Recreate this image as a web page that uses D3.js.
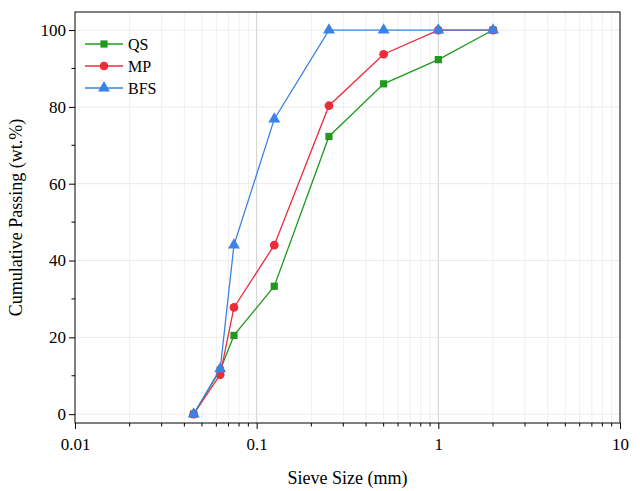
<!DOCTYPE html>
<html><head><meta charset="utf-8">
<script src="https://cdn.jsdelivr.net/npm/d3@7.9.0/dist/d3.min.js"></script>
<style>body{margin:0;background:#fff}svg text{font-family:"Liberation Serif","Times New Roman",serif !important}</style>
</head><body><svg id="c" width="640" height="491"></svg>
<script>
const sieve = [0.045, 0.063, 0.075, 0.125, 0.25, 0.5, 1, 2];
const qs  = [0, 11.5, 20.5, 33.3, 72.3, 86, 92.3, 100];
const mp  = [0, 10.3, 27.8, 44, 80.3, 93.7, 100, 100];
const bfs = [0, 11.8, 44, 76.8, 100, 100, 100, 100];
const seriesNames = ['QS', 'MP', 'BFS'];
const xTicks = [0.01, 0.1, 1, 10];
const yTicks = [0, 20, 40, 60, 80, 100];

const svg = d3.select('#c');
const L = 75, R = 620, T = 12, B = 423;
const x = d3.scaleLog().domain([0.01, 10]).range([L, R]);
const y = d3.scaleLinear().domain([-2.3, 104.7]).range([B, T]);

// grid
const minor = [];
for (let d = 0.01; d < 10; d *= 10) for (let k = 2; k <= 9; k++) minor.push(d * k);
svg.append('g').selectAll('line').data(minor).join('line')
  .attr('x1', d => x(d)).attr('x2', d => x(d)).attr('y1', T).attr('y2', B)
  .attr('stroke', '#ececec').attr('stroke-width', 0.8);
svg.append('g').selectAll('line').data(xTicks.slice(1, 3)).join('line')
  .attr('x1', d => x(d)).attr('x2', d => x(d)).attr('y1', T).attr('y2', B)
  .attr('stroke', '#d0d0d0').attr('stroke-width', 1);
svg.append('g').selectAll('line').data(yTicks).join('line')
  .attr('x1', L).attr('x2', R).attr('y1', d => y(d)).attr('y2', d => y(d))
  .attr('stroke', '#e4e4e4').attr('stroke-width', 0.8);

svg.append('rect').attr('x', L).attr('y', T).attr('width', R - L).attr('height', B - T)
  .attr('fill', 'none').attr('stroke', '#000').attr('stroke-width', 1);

// axes
const xAxis = svg.append('g').attr('transform', `translate(0,${B})`)
  .call(d3.axisBottom(x).tickValues(xTicks).tickFormat(d => String(d)).tickSize(6).tickSizeOuter(0));
xAxis.append('g').selectAll('line').data(minor).join('line')
  .attr('x1', d => x(d)).attr('x2', d => x(d)).attr('y1', 0).attr('y2', 3.5).attr('stroke', '#000');
const yAxis = svg.append('g').attr('transform', `translate(${L},0)`)
  .call(d3.axisLeft(y).tickValues(yTicks).tickSize(6).tickSizeOuter(0));
yAxis.append('g').selectAll('line').data(d3.range(10, 100, 20)).join('line')
  .attr('x1', 0).attr('x2', -3.5).attr('y1', d => y(d)).attr('y2', d => y(d)).attr('stroke', '#000');
svg.selectAll('.domain').remove();
xAxis.attr('font-family', null); yAxis.attr('font-family', null);
svg.selectAll('.tick text').style('font-size', '17px').attr('fill', '#000');
xAxis.selectAll('.tick text').attr('dy', '1.05em');

svg.append('text').attr('x', (L + R) / 2).attr('y', 484).attr('text-anchor', 'middle')
  .attr('font-size', 18).text('Sieve Size (mm)');
svg.append('text').attr('transform', `translate(22,${(T + B) / 2}) rotate(-90)`)
  .attr('text-anchor', 'middle').attr('font-size', 18).text('Cumulative Passing (wt.%)');

// series
const colors = ['#1f9a1f', '#ec2b3b', '#3b82e6'];
const vals = [qs, mp, bfs];
const line = d3.line().x(d => x(d[0])).y(d => y(d[1]));
const marker = [d3.symbolSquare, d3.symbolCircle, d3.symbolTriangle];
const sizes = [52, 60, 62];
vals.forEach((v, i) => {
  const pts = sieve.map((s, j) => [s, v[j]]);
  svg.append('path').attr('d', line(pts)).attr('fill', 'none').attr('stroke', colors[i]).attr('stroke-width', 1.3);
  svg.append('g').selectAll('path').data(pts).join('path')
    .attr('transform', d => `translate(${x(d[0])},${y(d[1])})`)
    .attr('d', d3.symbol(marker[i], sizes[i])).attr('fill', colors[i]);
});

// legend
seriesNames.forEach((n, i) => {
  const ly = 44 + i * 22;
  svg.append('line').attr('x1', 85).attr('x2', 123).attr('y1', ly).attr('y2', ly)
    .attr('stroke', colors[i]).attr('stroke-width', 1.3);
  svg.append('path').attr('transform', `translate(104,${ly})`).attr('d', d3.symbol(marker[i], sizes[i])).attr('fill', colors[i]);
  svg.append('text').attr('x', 128).attr('y', ly + 6).attr('font-size', 16).text(n);
});
</script></body></html>
